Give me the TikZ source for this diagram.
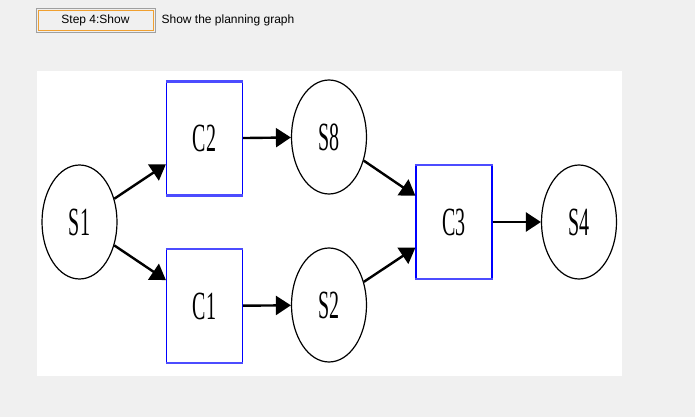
\documentclass[tikz,border=0pt]{standalone}
\usepackage{graphicx}
\usepackage{fontspec}
\setmainfont{Liberation Serif}
\newfontfamily\uifont{Liberation Sans}
\usepackage{tikz}
\usetikzlibrary{shapes.geometric, arrows.meta, positioning}

\definecolor{panelgrey}{HTML}{F0F0F0}
\definecolor{btnedge}{HTML}{A0A0A0}
\definecolor{btnfocus}{HTML}{F0A030}

\newcommand{\slim}[1]{\scalebox{0.5}[1]{#1}}

\begin{document}
\begin{tikzpicture}[
			x=1pt, y=-1pt,
			state/.style={
				ellipse,
				draw=black,
				line width=1.2pt,
				fill=white,
				minimum width=75pt,
				minimum height=114pt,
				inner sep=0pt,
				font=\fontsize{40}{40}\selectfont
			},
			action/.style={
				rectangle,
				draw=blue,
				line width=1.2pt,
				fill=white,
				minimum width=76pt,
				minimum height=113pt,
				inner sep=0pt,
				font=\fontsize{40}{40}\selectfont
			},
			boxcap/.style={
				draw=blue!70,
				line width=2.6pt
			},
			arrow/.style={
				-{Triangle[length=15pt, width=19pt]},
				line width=2.4pt
			}
			]
			
			% Window background and drawing panel
			\useasboundingbox[fill=panelgrey] (0,0) rectangle (695,417);
			\fill[white] (37,71) rectangle (622,376);
			
			% Step button and caption
			\node[draw=btnedge, line width=0.8pt, fill=panelgrey, minimum width=119pt, minimum height=24pt, inner sep=0pt] (btn) at (95.5,20) {};
			\node[draw=btnfocus, line width=0.8pt, minimum width=115pt, minimum height=20pt, inner sep=0pt, font=\uifont\fontsize{12}{12}\selectfont] (btnin) at (btn.center) {Step 4:Show};
			\node[anchor=west, inner sep=0pt, font=\uifont\fontsize{12}{12}\selectfont, right=6pt of btn.east] (caption) {Show the planning graph};
			
			% States and actions
			\node[state] (s1) at (79.5,222) {\slim{S1}};
			\node[action] (c2) at (204.5,138.5) {\slim{C2}};
			\node[action] (c1) at (204.5,306) {\slim{C1}};
			\node[state] (s8) at (329,137) {\slim{S8}};
			\node[state] (s2) at (329,305) {\slim{S2}};
			\node[action] (c3) at (454,222) {\slim{C3}};
			\node[state] (s4) at (579,222) {\slim{S4}};
			
			% thicker top and bottom edges of the action boxes
			\foreach \n in {c1,c2,c3} {
				\draw[boxcap] (\n.north west) -- (\n.north east);
				\draw[boxcap] (\n.south west) -- (\n.south east);
			}
			
			% Edges
			\draw[arrow] (s1) -- (c2);
			\draw[arrow] (s1) -- (c1);
			\draw[arrow] (c2) -- (s8);
			\draw[arrow] (c1) -- (s2);
			\draw[arrow] (s8) -- (c3);
			\draw[arrow] (s2) -- (c3);
			\draw[arrow] (c3) -- (s4);
			
		\end{tikzpicture}
\end{document}
